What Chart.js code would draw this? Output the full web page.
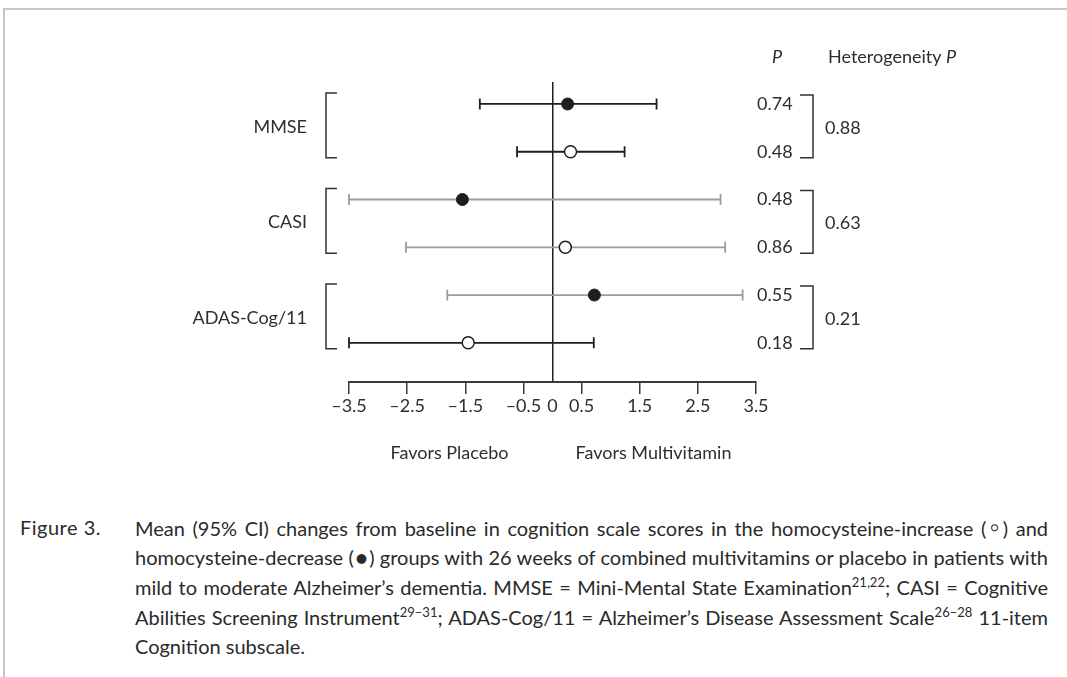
<!DOCTYPE html>
<html>
<head>
<meta charset="utf-8">
<script src="https://cdn.jsdelivr.net/npm/chart.js@4"></script>
<style>
  body { margin: 0; background: #fff; width: 1067px; height: 677px; overflow: hidden; position: relative; font-family: Lato, sans-serif; color: #2a2a2a; }
  #frame { position: absolute; left: 3px; top: 8px; width: 1100px; height: 700px; border-top: 2px solid #c6c6c6; border-left: 2px solid #c6c6c6; }
  #wrap { position: absolute; left: 0; top: 0; width: 1067px; height: 480px; }
  .fig { position: absolute; left: 20px; top: 512px; font-size: 20px; line-height: 30px; letter-spacing: 0.5px; }
  .cap { position: absolute; left: 135px; width: 913px; font-size: 20px; line-height: 30px; word-spacing: -1.5px; text-align: justify; text-align-last: justify; }
  .cap.last { text-align-last: left; word-spacing: 0; }
  sup { font-size: 13px; line-height: 0; vertical-align: 8px; }
  .nw { white-space: nowrap; }
  .sm { font-size: 13px; vertical-align: 4px; }
</style>
</head>
<body>
<div id="frame"></div>
<div id="wrap"><canvas id="forestChart" width="1067" height="480"></canvas></div>
<div class="fig">Figure 3.</div>
<div class="cap" style="top:512px">Mean (95% CI) changes from baseline in cognition scale scores in the <span class="nw">homocysteine-increase</span> <span class="nw">(<span class="sm">○</span>)</span> and</div>
<div class="cap" style="top:542px"><span class="nw">homocysteine-decrease</span> <span class="nw">(●)</span> groups with 26 weeks of combined multivitamins or placebo in patients with</div>
<div class="cap" style="top:572px">mild to moderate Alzheimer’s dementia. MMSE = <span class="nw">Mini-Mental</span> State <span class="nw">Examination<sup>21,22</sup>;</span> CASI = Cognitive</div>
<div class="cap" style="top:602px">Abilities Screening <span class="nw">Instrument<sup>29–31</sup>;</span> <span class="nw">ADAS-Cog/11</span> = Alzheimer’s Disease Assessment <span class="nw">Scale<sup>26–28</sup></span> <span class="nw">11-item</span></div>
<div class="cap last" style="top:631px">Cognition subscale.</div>
<script>
// cognition scales, one bracket each
const scaleNames = ['MMSE', 'CASI', 'ADAS-Cog/11'];
// homocysteine-decrease group (filled dot)
const decMean = [0.26, -1.55, 0.72];
const decLow = [-1.25, -3.5, -1.81];
const decHigh = [1.79, 2.89, 3.27];
// homocysteine-increase group (open dot)
const incMean = [0.31, 0.22, -1.45];
const incLow = [-0.61, -2.52, -3.5];
const incHigh = [1.24, 2.97, 0.71];
// P values
const pDec = ['0.74', '0.48', '0.55'];
const pInc = ['0.48', '0.86', '0.18'];
const pHetero = ['0.88', '0.63', '0.21'];
const xTicks = [-3.5, -2.5, -1.5, -0.5, 0, 0.5, 1.5, 2.5, 3.5];

const decColor = ['#1e1e1e', '#9c9c9c', '#9c9c9c'];
const incColor = ['#1e1e1e', '#9c9c9c', '#1e1e1e'];
const textColor = '#2e2e2e';
const font = '18px Lato, sans-serif';

const errorBars = {
    id: 'errorBars',
    beforeDatasetsDraw(chart) {
        const ctx = chart.ctx;
        const x = chart.scales.x, y = chart.scales.y;
        chart.data.datasets.forEach(ds => {
            ds.data.forEach((d, i) => {
                const py = y.getPixelForValue(d.y);
                const x0 = x.getPixelForValue(d.lo);
                const x1 = x.getPixelForValue(d.hi);
                ctx.save();
                ctx.strokeStyle = ds.barColor[i];
                ctx.lineWidth = 1.8;
                ctx.beginPath();
                ctx.moveTo(x0, py); ctx.lineTo(x1, py);
                ctx.moveTo(x0, py - 5.5); ctx.lineTo(x0, py + 5.5);
                ctx.moveTo(x1, py - 5.5); ctx.lineTo(x1, py + 5.5);
                ctx.stroke();
                ctx.restore();
            });
        });
    }
};

const annotations = {
    id: 'annotations',
    afterDraw(chart) {
        const ctx = chart.ctx;
        const x = chart.scales.x, y = chart.scales.y;
        const area = chart.chartArea;
        ctx.save();
        ctx.fillStyle = textColor;
        ctx.strokeStyle = '#333';
        ctx.lineWidth = 1.5;
        ctx.font = font;
        ctx.textBaseline = 'middle';

        // header
        ctx.font = 'italic ' + font;
        ctx.textAlign = 'center';
        ctx.fillText('P', area.right + 21, 57);
        ctx.textAlign = 'left';
        ctx.font = font;
        ctx.fillText('Heterogeneity ', area.right + 72, 57);
        const w = ctx.measureText('Heterogeneity ').width;
        ctx.font = 'italic ' + font;
        ctx.fillText('P', area.right + 72 + w, 57);
        ctx.font = font;

        scaleNames.forEach((name, i) => {
            const yTop = y.getPixelForValue(2 * i);
            const yBot = y.getPixelForValue(2 * i + 1);
            const yMid = (yTop + yBot) / 2;

            // left label and bracket
            ctx.textAlign = 'right';
            ctx.fillText(name, area.left - 42, yMid - 1);
            ctx.beginPath();
            ctx.moveTo(area.left - 12, yTop - 11);
            ctx.lineTo(area.left - 23, yTop - 11);
            ctx.lineTo(area.left - 23, yBot + 6);
            ctx.lineTo(area.left - 12, yBot + 6);
            ctx.stroke();

            // P values and right bracket
            ctx.textAlign = 'left';
            ctx.fillText(pDec[i], area.right + 1, yTop);
            ctx.fillText(pInc[i], area.right + 1, yBot);
            ctx.beginPath();
            ctx.moveTo(area.right + 44, yTop - 9);
            ctx.lineTo(area.right + 57, yTop - 9);
            ctx.lineTo(area.right + 57, yBot + 6);
            ctx.lineTo(area.right + 44, yBot + 6);
            ctx.stroke();
            ctx.fillText(pHetero[i], area.right + 69, yMid);
        });

        // direction labels
        const zero = x.getPixelForValue(0);
        ctx.textAlign = 'center';
        ctx.fillText('Favors Placebo', zero - 103, 453);
        ctx.fillText('Favors Multivitamin', zero + 101, 453);
        ctx.restore();
    }
};

const ctxForest = document.getElementById('forestChart').getContext('2d');
const forestChart = new Chart(ctxForest, {
    type: 'scatter',
    data: {
        datasets: [{
                label: 'Homocysteine-decrease',
                data: decMean.map((m, i) => ({ x: m, y: 2 * i, lo: decLow[i], hi: decHigh[i] })),
                barColor: decColor,
                pointRadius: 6,
                pointHoverRadius: 6,
                pointBackgroundColor: '#1e1e1e',
                pointBorderColor: '#1e1e1e',
                pointBorderWidth: 1
            },
            {
                label: 'Homocysteine-increase',
                data: incMean.map((m, i) => ({ x: m, y: 2 * i + 1, lo: incLow[i], hi: incHigh[i] })),
                barColor: incColor,
                pointRadius: 6,
                pointHoverRadius: 6,
                pointBackgroundColor: '#fff',
                pointBorderColor: '#1e1e1e',
                pointBorderWidth: 1.5
            }
        ]
    },
    options: {
        responsive: false,
        animation: false,
        devicePixelRatio: 1,
        layout: {
            padding: { left: 349, right: 311, top: 82, bottom: 58 }
        },
        plugins: {
            legend: { display: false },
            tooltip: { enabled: false }
        },
        scales: {
            x: {
                type: 'linear',
                min: -3.5,
                max: 3.5,
                afterBuildTicks: scale => { scale.ticks = xTicks.map(v => ({ value: v })); },
                afterFit: scale => { scale.height = 40; },
                border: { display: true, color: '#3a3a3a', width: 2 },
                grid: {
                    drawOnChartArea: true,
                    color: c => (c.tick && c.tick.value === 0) ? '#1e1e1e' : 'rgba(0,0,0,0)',
                    lineWidth: 1.5,
                    tickLength: 12,
                    tickColor: c => (c.tick && c.tick.value === 0) ? 'rgba(0,0,0,0)' : '#3a3a3a',
                    tickWidth: 1.5
                },
                ticks: {
                    padding: 1,
                    autoSkip: false,
                    maxRotation: 0,
                    color: textColor,
                    font: { family: 'Lato, sans-serif', size: 18 },
                    callback: v => (v < 0 ? '\u2013' + Math.abs(v) : String(v))
                }
            },
            y: {
                type: 'linear',
                display: false,
                reverse: true,
                min: -0.46,
                max: 5.82
            }
        }
    },
    plugins: [errorBars, annotations]
});
</script>
</body>
</html>
